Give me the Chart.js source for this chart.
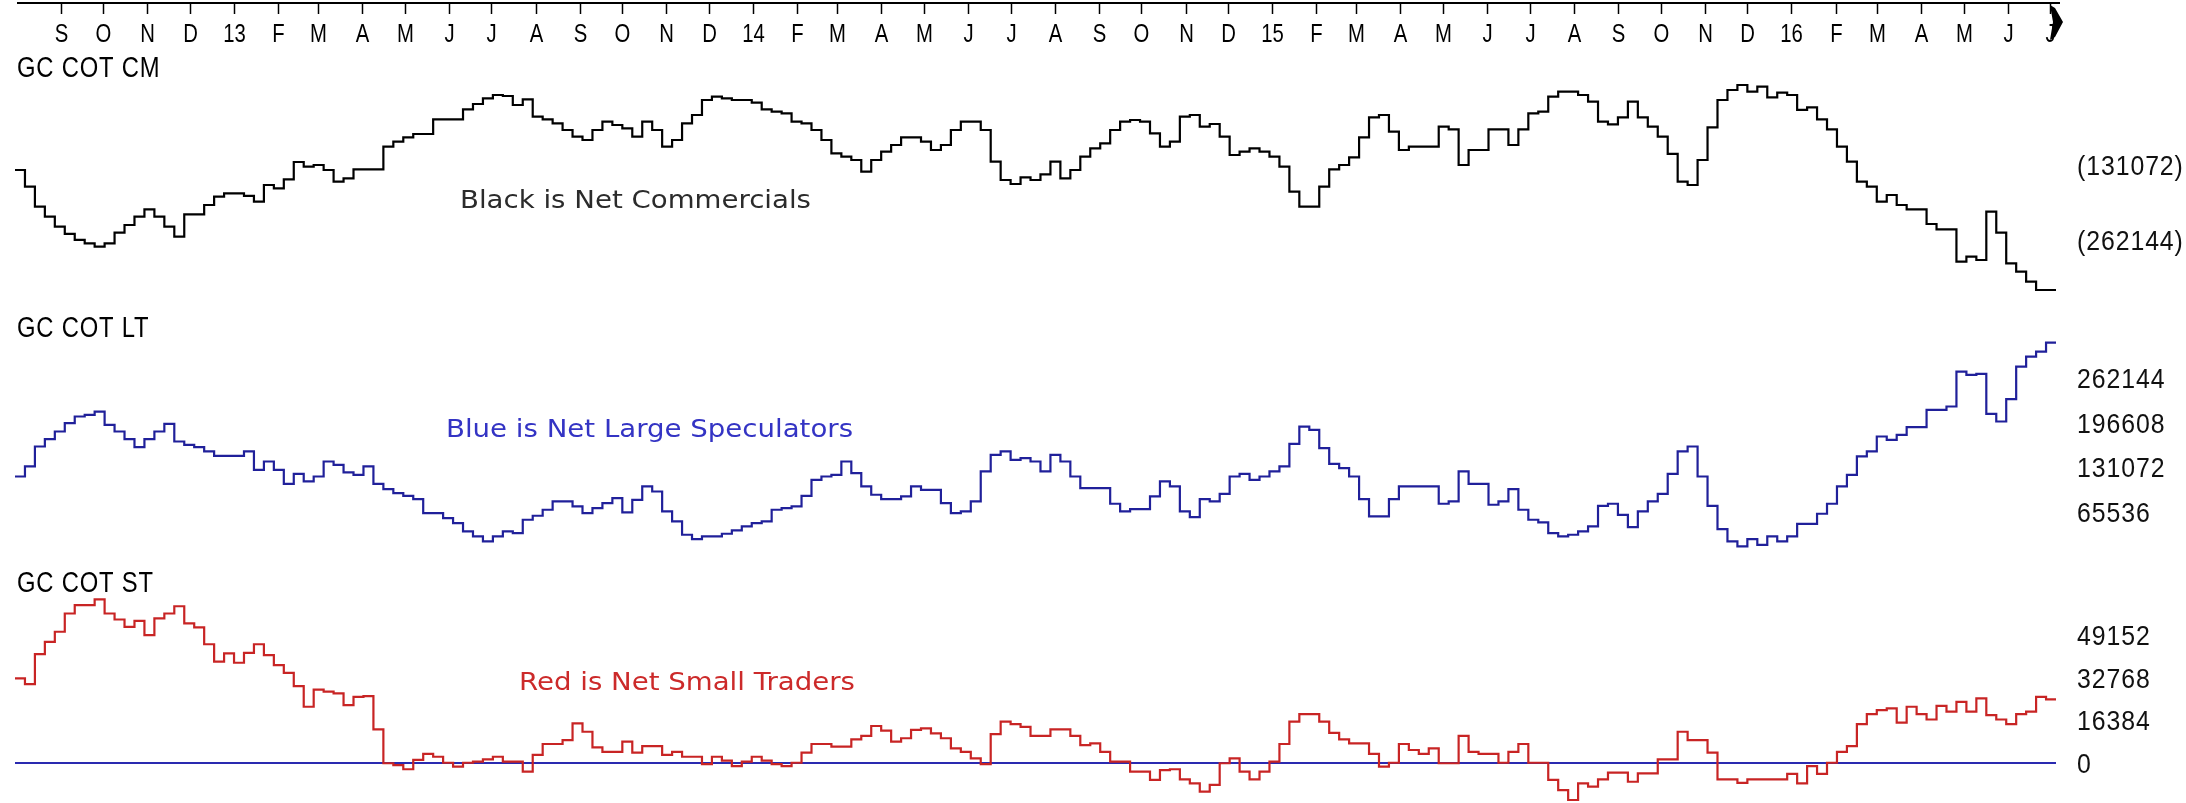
<!DOCTYPE html>
<html>
<head>
<meta charset="utf-8">
<script src="https://cdn.jsdelivr.net/npm/chart.js@4/dist/chart.umd.min.js"></script>
<style>
    html, body { margin: 0; padding: 0; background: #fff; }
    #cot { display: block; }
</style>
</head>
<body>
<canvas id="cot" width="2186" height="803"></canvas>
<script>
// Gold (GC) Commitments of Traders, weekly net positions.
// One value per report week, first week starting 2012-07-31.
const firstWeek = new Date(2012, 6, 31);
const firstTick = new Date(2012, 8, 1);
const lastTick = new Date(2016, 6, 1);
const monthLetters = ['J', 'F', 'M', 'A', 'M', 'J', 'J', 'A', 'S', 'O', 'N', 'D'];

const panelTitles = ['GC COT CM', 'GC COT LT', 'GC COT ST'];

const commercials = [
    -139800, -168900, -203900, -221400, -238800, -251600, -262100, -267900, -273800, -267900,
    -249300, -235900, -221400, -208500, -221400, -238800, -256300, -217300, -217300, -201000,
    -186400, -180600, -180600, -185200, -195100, -166000, -171800, -156100, -125800, -134000,
    -131100, -139800, -160200, -154400, -138600, -138600, -138600, -99000, -90300, -82700,
    -76900, -76900, -51300, -51300, -51300, -33800, -24500, -14600, -8700, -10500,
    -26200, -16300, -46600, -51300, -58300, -69900, -81600, -87400, -69900, -55300,
    -61200, -67000, -81600, -55300, -69900, -99000, -87400, -58300, -43700, -17500,
    -11600, -14600, -17500, -17500, -22100, -33800, -37900, -40800, -55300, -58300,
    -69900, -87400, -110700, -116500, -122300, -142700, -122300, -107800, -96100, -82700,
    -82700, -90300, -104900, -96100, -69900, -55300, -55300, -69900, -125200, -157300,
    -164300, -152600, -157300, -147400, -125200, -154400, -139800, -116500, -101900, -93200,
    -69900, -55300, -52400, -55300, -75700, -99000, -90300, -46600, -43700, -64100,
    -59400, -81600, -113600, -107800, -101900, -107800, -116500, -134000, -177700, -203900,
    -203900, -168900, -138600, -131100, -117700, -82700, -47800, -43700, -72800, -104900,
    -99000, -99000, -99000, -64100, -68700, -131100, -104900, -104900, -68700, -68700,
    -96100, -68700, -40800, -37900, -11600, -2900, -2900, -8700, -20400, -55300,
    -60000, -47800, -20400, -47800, -64100, -81600, -111800, -160200, -166000, -122300,
    -65200, -17500, 0, 8700, -2900, 5800, -12800, -4700, -8700, -34900,
    -30300, -51300, -68700, -99000, -125200, -160200, -168900, -195100, -183500, -201000,
    -208500, -208500, -234200, -243500, -243500, -300000, -291200, -297100, -212600, -249300,
    -302900, -317500, -334900, -349500, -349500
];

const largeSpecs = [
    117700, 132400, 161700, 172500, 183700, 196000, 205700, 208100, 213000, 193500,
    183700, 172500, 160700, 172500, 183700, 195000, 169000, 164200, 160700, 154400,
    148000, 148000, 148000, 154400, 127500, 139700, 127500, 107000, 121600, 110400,
    117700, 139700, 134800, 123600, 120200, 132400, 107000, 99200, 93300, 89400,
    84500, 64000, 64000, 56600, 49300, 37100, 29800, 22400, 29800, 37100,
    34700, 54200, 60100, 68900, 81100, 81100, 73800, 64000, 71300, 78600,
    86000, 65000, 83500, 103100, 95700, 66400, 51800, 32200, 25900, 29800,
    29800, 33700, 38600, 44400, 49300, 51800, 68900, 71300, 73800, 89400,
    112800, 117700, 120200, 139700, 122600, 103100, 90900, 84500, 84500, 88400,
    103100, 98200, 98200, 78600, 64000, 66400, 81100, 125100, 149500, 154400,
    142200, 144600, 139700, 125100, 149500, 139700, 117700, 100600, 100600, 100600,
    77700, 66400, 69800, 69800, 88400, 110400, 103100, 66400, 58100, 84500,
    81100, 92300, 117700, 121600, 112800, 117700, 125100, 132400, 165600, 191000,
    186100, 159300, 136300, 130000, 117700, 84500, 59100, 59100, 84500, 103100,
    103100, 103100, 103100, 77700, 81100, 125100, 107000, 107000, 76200, 81100,
    99200, 68900, 54200, 50300, 34700, 29800, 32200, 37100, 44400, 74700,
    77700, 61500, 43400, 66400, 81100, 92300, 121600, 154400, 161700, 117700,
    74700, 40500, 22400, 15100, 25900, 17500, 29800, 22400, 29800, 48300,
    48300, 63000, 77700, 103100, 120200, 147100, 154400, 176400, 171500, 178800,
    190100, 190100, 215500, 215500, 220400, 271700, 266800, 268300, 209600, 198400,
    231100, 279000, 293700, 301000, 314200
];

const smallTraders = [
    32500, 30300, 41800, 46500, 50400, 57400, 60600, 60600, 62800, 57400,
    55100, 52300, 54600, 49100, 55500, 57400, 60200, 53600, 52100, 45600,
    38900, 42100, 38500, 42300, 45600, 41400, 37600, 34600, 29500, 21600,
    28200, 27400, 26700, 22200, 25400, 25700, 12900, -100, -800, -2400,
    1200, 3500, 2400, 100, -1400, 100, 500, 1400, 2400, 500,
    500, -3300, 3100, 7300, 7300, 8800, 15200, 12000, 6000, 4300,
    4300, 8200, 4000, 6500, 6500, 3100, 4300, 2400, 2400, -400,
    2400, 900, -1200, 500, 2400, 900, -400, -1200, 100, 4000,
    7300, 7300, 6300, 6300, 9100, 10400, 14200, 12400, 8200, 9500,
    12700, 13300, 11400, 9500, 5600, 4300, 1800, -400, 11100, 15900,
    14900, 13900, 10400, 10400, 12900, 12900, 10400, 6900, 7500, 4300,
    500, 500, -3300, -3300, -6500, -2700, -2400, -6300, -7800, -11000,
    -8400, -100, 1800, -3300, -6300, -3300, 500, 7300, 15900, 18800,
    18800, 15900, 11600, 9100, 7500, 7500, 3500, -1400, 100, 7300,
    5000, 3500, 5600, -100, -100, 10400, 4300, 3500, 3500, 100,
    4300, 7300, 100, 100, -6500, -10400, -14200, -7800, -9100, -6300,
    -3700, -3700, -7200, -4000, -4000, 1400, 1400, 12000, 8800, 8800,
    4000, -6300, -6300, -7600, -6300, -6300, -6300, -6300, -4200, -7800,
    -1200, -4200, 100, 4300, 6500, 14900, 18800, 20300, 21000, 15500,
    21600, 18800, 16700, 21900, 19700, 23500, 19700, 24800, 18400, 16700,
    14900, 18800, 19700, 25400, 24400
];

const commercialTicks = [-131072, -262144];
const largeSpecTicks = [262144, 196608, 131072, 65536];
const smallTraderTicks = [49152, 32768, 16384, 0];

const weeks = commercials.length;
const DAY = 86400000;

function weekOffset(date) {
    return (date - firstWeek) / (7 * DAY);
}

// each weekly value is held flat until the next report
function toSteps(values) {
    const points = values.map((v, i) => ({ x: i, y: v }));
    points.push({ x: values.length, y: values[values.length - 1] });
    return points;
}

function monthTicks() {
    const ticks = [];
    const d = new Date(firstTick);
    while (d <= lastTick) {
        const m = d.getMonth();
        ticks.push({
            pos: weekOffset(d),
            label: m === 0 ? String(d.getFullYear() % 100) : monthLetters[m]
        });
        d.setMonth(m + 1);
    }
    return ticks;
}

// draw text squeezed or widened horizontally
function stretchedText(ctx, text, x, y, stretch) {
    ctx.save();
    ctx.translate(x, y);
    ctx.scale(stretch, 1);
    ctx.fillText(text, 0, 0);
    ctx.restore();
}

const axisFont = '"Liberation Sans", Arial, sans-serif';

const decorations = {
    id: 'decorations',
    afterDraw(chart) {
        const { ctx, chartArea, scales } = chart;
        const xs = scales.x;
        ctx.save();

        // time axis along the top
        ctx.strokeStyle = '#000';
        ctx.lineWidth = 2;
        ctx.beginPath();
        ctx.moveTo(chartArea.left + 2, 3);
        ctx.lineTo(chartArea.right + 4, 3);
        ctx.stroke();

        ctx.lineWidth = 1.5;
        ctx.fillStyle = '#000';
        ctx.font = '26px ' + axisFont;
        ctx.textAlign = 'center';
        ctx.textBaseline = 'alphabetic';
        for (const t of monthTicks()) {
            const px = Math.round(xs.getPixelForValue(t.pos)) + 0.5;
            ctx.beginPath();
            ctx.moveTo(px, 3);
            ctx.lineTo(px, 14);
            ctx.stroke();
            stretchedText(ctx, t.label, px, 42, 0.78);
        }

        // marker at the latest week
        const ex = chartArea.right - 6;
        ctx.beginPath();
        ctx.moveTo(ex, 5);
        ctx.lineTo(ex + 5, 8);
        ctx.lineTo(ex + 13, 22);
        ctx.lineTo(ex + 5, 37);
        ctx.lineTo(ex, 40);
        ctx.lineTo(ex + 3, 22);
        ctx.closePath();
        ctx.fill();

        // panel titles
        ctx.textAlign = 'left';
        ctx.font = '29px ' + axisFont;
        ctx.letterSpacing = '1px';
        const titleBase = [77, 337, 592];
        panelTitles.forEach((t, i) => stretchedText(ctx, t, chartArea.left + 2, titleBase[i], 0.82));

        // value labels on the right
        ctx.font = '27px ' + axisFont;
        ctx.fillStyle = '#111';
        const lx = chartArea.right + 21;
        const squeeze = 0.92;
        for (const v of commercialTicks) {
            stretchedText(ctx, '(' + Math.abs(v) + ')', lx, scales.yCM.getPixelForValue(v) + 10, squeeze);
        }
        for (const v of largeSpecTicks) {
            stretchedText(ctx, String(v), lx, scales.yLT.getPixelForValue(v) + 10, squeeze);
        }
        for (const v of smallTraderTicks) {
            stretchedText(ctx, String(v), lx, scales.yST.getPixelForValue(v) + 10, squeeze);
        }
        ctx.letterSpacing = '0px';

        // series notes
        ctx.font = '24px "DejaVu Sans"';
        ctx.fillStyle = '#2b2b2b';
        stretchedText(ctx, 'Black is Net Commercials', 460, 208, 1.15);
        ctx.fillStyle = '#3434c4';
        stretchedText(ctx, 'Blue is Net Large Speculators', 446, 437, 1.15);
        ctx.fillStyle = '#cc2a2a';
        stretchedText(ctx, 'Red is Net Small Traders', 519, 690, 1.15);

        ctx.restore();
    }
};

function stepLine(values, color, axis) {
    return {
        data: toSteps(values),
        yAxisID: axis,
        borderColor: color,
        borderWidth: 2.2,
        stepped: true,
        pointRadius: 0,
        fill: false,
        borderJoinStyle: 'miter'
    };
}

new Chart(document.getElementById('cot'), {
    type: 'line',
    data: {
        datasets: [
            stepLine(commercials, '#000000', 'yCM'),
            stepLine(largeSpecs, '#20209a', 'yLT'),
            stepLine(smallTraders, '#c82424', 'yST'),
            {
                data: [{ x: 0, y: 0 }, { x: weeks, y: 0 }],
                yAxisID: 'yST',
                borderColor: '#2a2ab0',
                borderWidth: 2,
                pointRadius: 0,
                fill: false
            }
        ]
    },
    options: {
        responsive: false,
        animation: false,
        devicePixelRatio: 1,
        parsing: false,
        layout: { padding: { left: 15, right: 130, top: 3, bottom: 0 } },
        scales: {
            x: { type: 'linear', min: 0, max: weeks, display: false },
            yCM: { type: 'linear', axis: 'y', min: -1246058, max: 152043, display: false },
            yLT: { type: 'linear', axis: 'y', min: -361360, max: 812400, display: false },
            yST: { type: 'linear', axis: 'y', min: -15360, max: 291840, display: false }
        },
        plugins: {
            legend: { display: false },
            tooltip: { enabled: false }
        }
    },
    plugins: [decorations]
});
</script>
</body>
</html>
